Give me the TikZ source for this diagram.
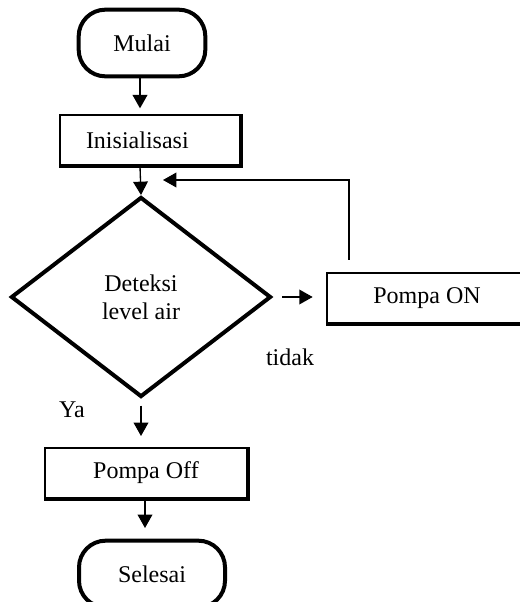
\documentclass[tikz,border=0pt]{standalone}
\usepackage{fontspec}
\setmainfont{Liberation Serif}
\usetikzlibrary{arrows.meta, positioning, shapes.geometric, calc}

\begin{document}
\begin{tikzpicture}[
  x=0.75pt, y=-0.75pt,
  >={Triangle[length=10pt, width=11pt]},
  terminal/.style={draw, rectangle, rounded corners=20pt, line width=3pt,
    minimum width=#1, minimum height=50pt, font=\fontsize{18}{21}\selectfont},
  proses/.style={draw, rectangle, line width=1.5pt, minimum width=#1,
    minimum height=38pt, font=\fontsize{18}{21}\selectfont, inner sep=0pt},
  keputusan/.style={draw, diamond, line width=3pt, aspect=1.3,
    minimum width=195pt, minimum height=150pt, inner sep=0pt,
    align=center, font=\fontsize{18}{21}\selectfont},
  label/.style={font=\fontsize{18}{21}\selectfont},
  arus/.style={->, line width=1pt}
]
\useasboundingbox (0,0) rectangle (519,602);

% Nodes
\node[terminal=95pt] (mulai) at (142,43) {Mulai};
\node[proses=135pt] (init) at (150,140) {Inisialisasi\rule{19pt}{0pt}};
\node[keputusan] (deteksi) at (141,297) {Deteksi\\level air};
\node[proses=150pt] (on) at (427,298) {Pompa ON};
\node[proses=151.5pt] (off) at (146,473) {Pompa Off};
\node[terminal=109.5pt] (selesai) at (152,574) {Selesai};

% Shadow edges
\foreach \n in {init, on, off} {
  \draw[line width=3pt] (\n.south west) -- (\n.south east) -- (\n.north east);
}

% Labels
\node[label] (tidak) at (290,357) {tidak};
\node[label] (ya) at (72,410) {Ya};

% Connectors
\draw[arus, shorten >=4pt] (mulai.south -| 140,0) -- (init.north -| 140,0);
\draw[arus] (init.south -| 140,0) -- (deteksi.north);
\draw[arus, shorten <=7pt, shorten >=10pt] (deteksi.east) -- (on.west |- deteksi.east);
\draw[arus, shorten <=5pt, shorten >=8pt] (deteksi.south) -- (off.north -| deteksi.south);
\draw[arus, shorten >=8pt] (off.south -| 145,0) -- (selesai.north -| 145,0);

% Loop back
\coordinate (balik) at (163,180);
\draw[arus, shorten <=9pt] ($(on.north west)+(23,0)$) |- (balik);

\end{tikzpicture}
\end{document}
